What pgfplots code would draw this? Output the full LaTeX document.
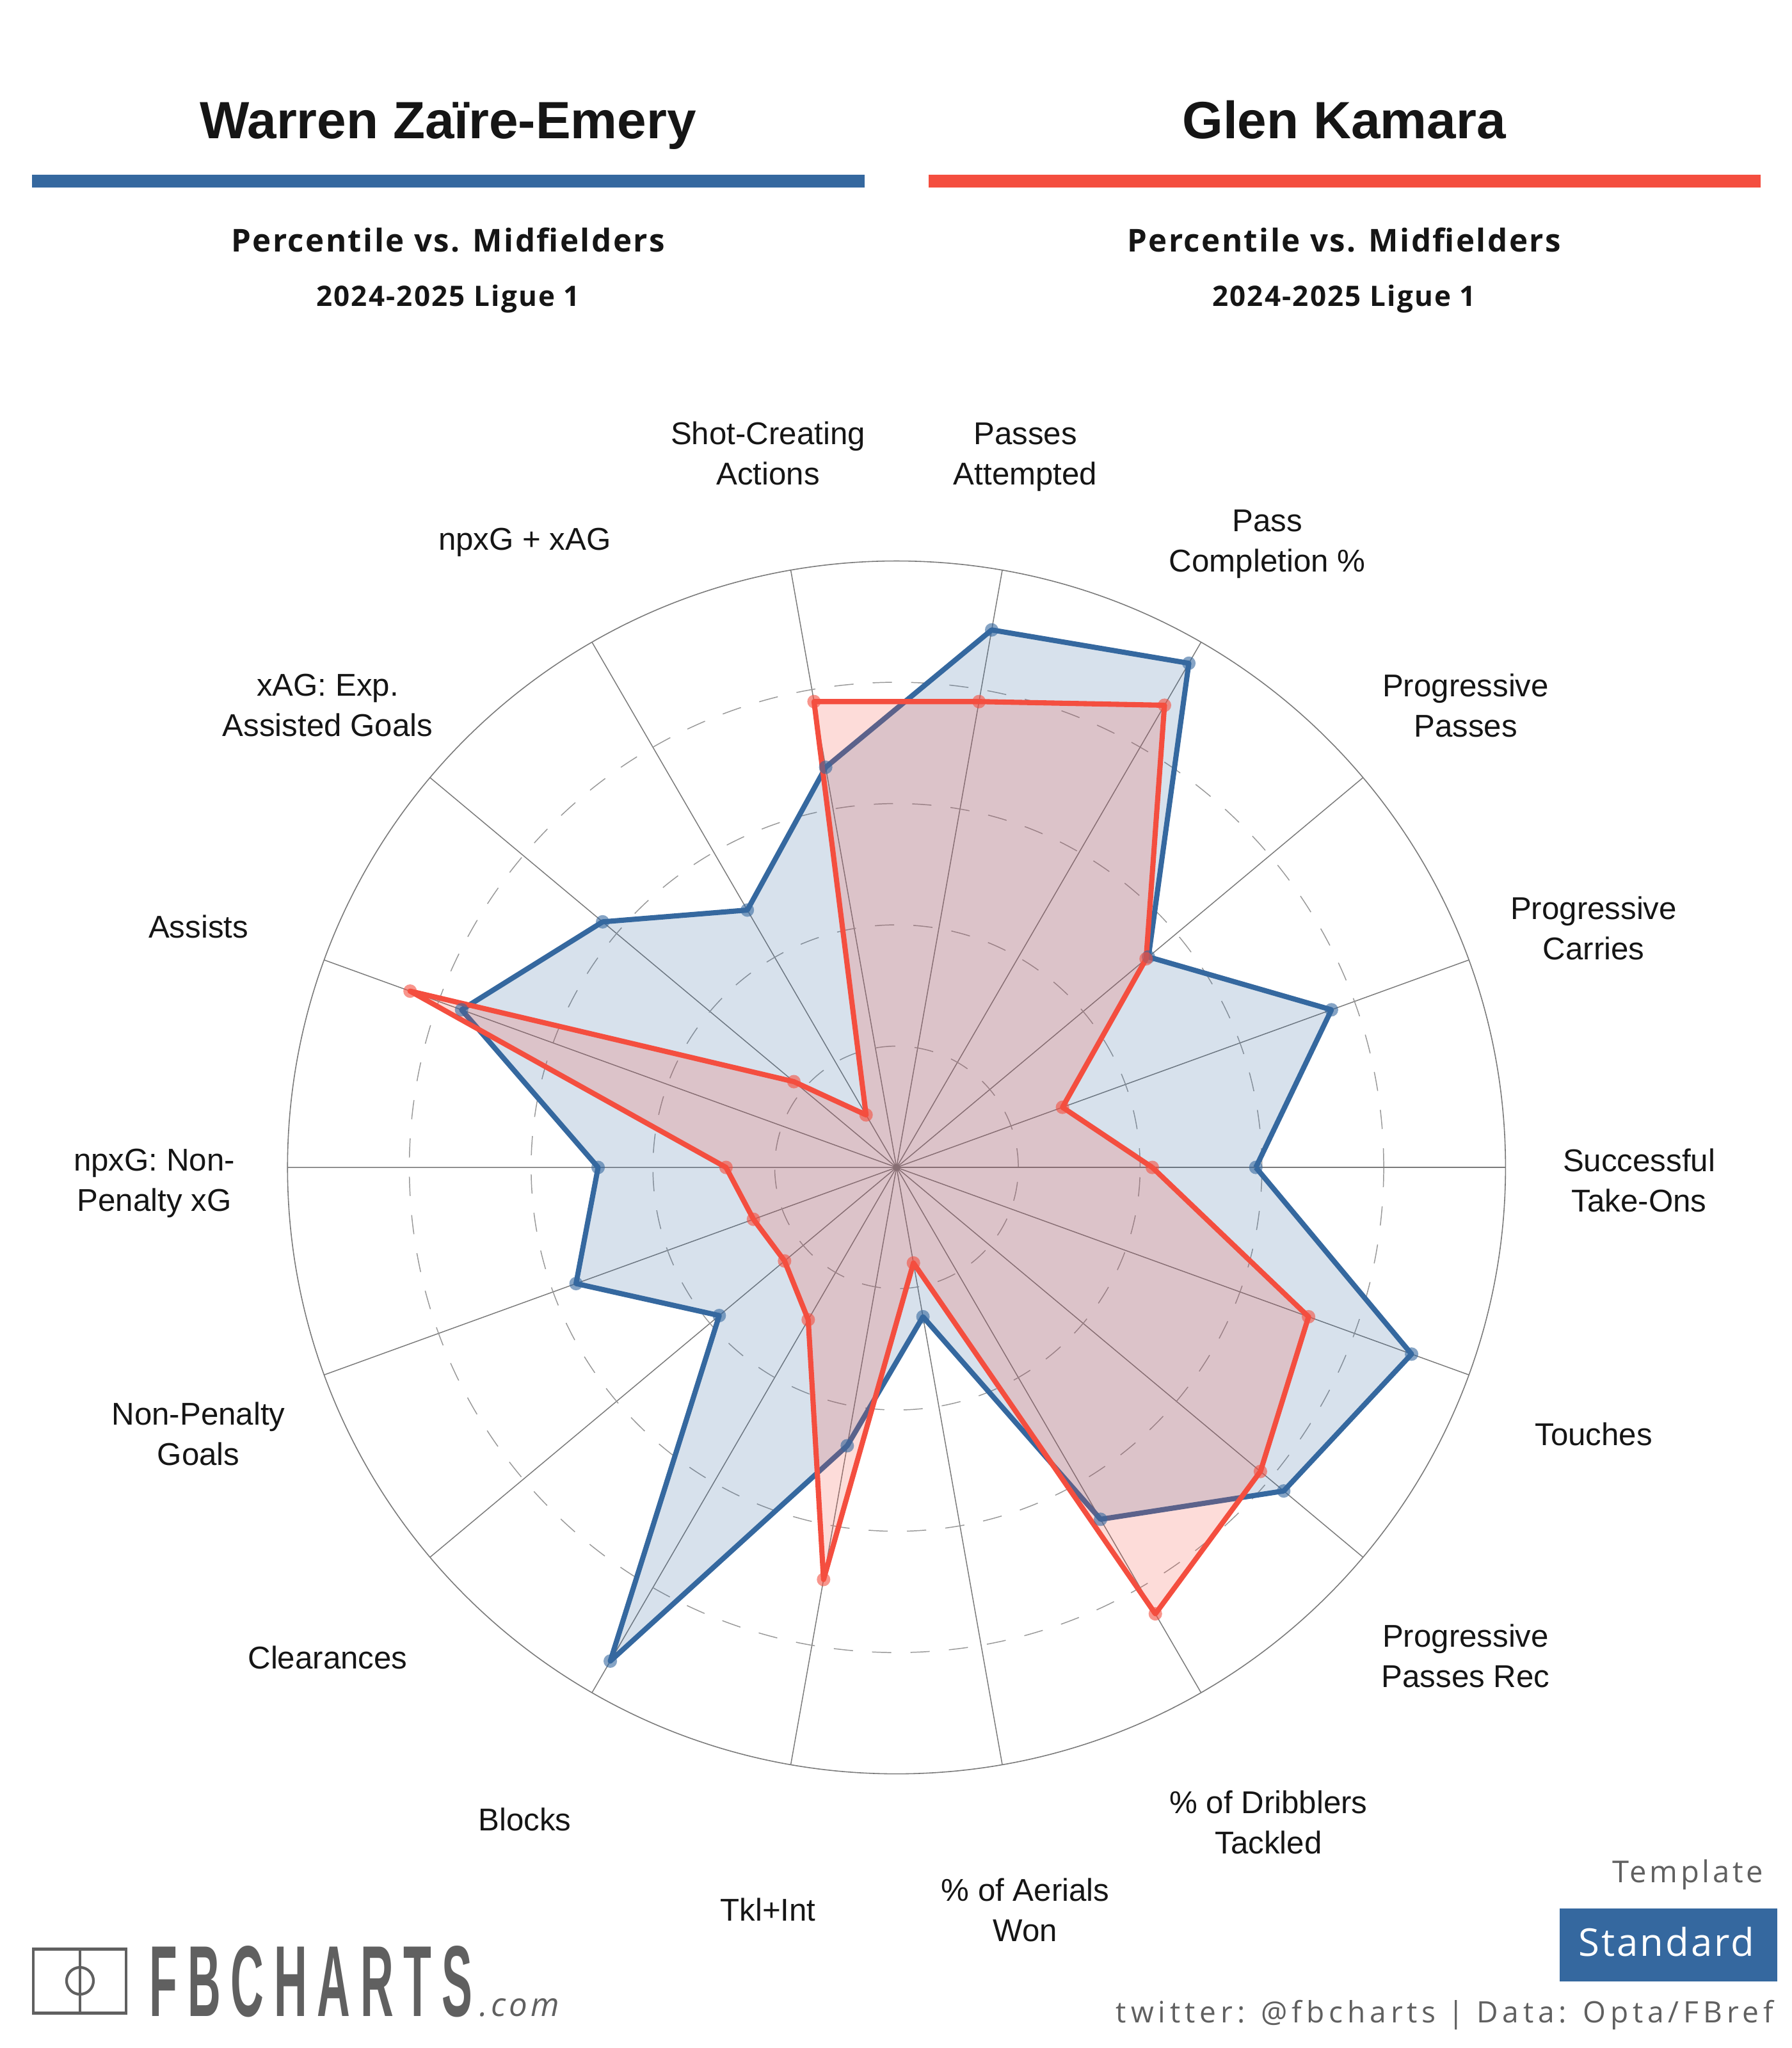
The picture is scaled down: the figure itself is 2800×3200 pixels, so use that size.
\documentclass[border=0pt]{standalone}
\usepackage{fontspec}
\usepackage{graphicx}
\usepackage{pgfplots}
\usepackage{pgfplotstable}
\pgfplotsset{compat=1.18}
\usepgfplotslibrary{polar}
\setmainfont{Liberation Sans}
\newfontfamily\osp[LetterSpace=10]{Open Sans}
\newfontfamily\ospw[LetterSpace=15]{Open Sans}
\newfontfamily\ospn[LetterSpace=5]{Open Sans}
\newfontfamily\ospb[LetterSpace=5]{Open Sans}
\newfontfamily\logof[LetterSpace=22]{Liberation Sans}
\definecolor{pblue}{HTML}{35689F}
\definecolor{pred}{HTML}{F44E3F}
\definecolor{lgray}{HTML}{606060}
\definecolor{ink}{HTML}{151515}

\pgfplotstableread{
ang zaire kamara
0   59   42
20  76   29
40  54   53.5
60  96   88
80  90   78
100 67   78
120 49   10
140 63   22
160 76   85
180 49   28
200 56   25
220 38   24
240 94   29
260 46.6 69
280 25   16
300 67   85
320 83   78
340 90   72
}\radar
\pgfplotstableread{
ang zaire kamara
0   59   42
20  76   29
40  54   53.5
60  96   88
80  90   78
100 67   78
120 49   10
140 63   22
160 76   85
180 49   28
200 56   25
220 38   24
240 94   29
260 46.6 69
280 25   16
300 67   85
320 83   78
340 90   72
360 59   42
}\radarclosed

\newcommand{\lab}[3]{\node[align=center,inner sep=0pt,text=ink,font=\fontsize{14}{17.9}\selectfont] at (#1,#2) {#3};}
\begin{document}
\begin{tikzpicture}[x=0.01cm,y=-0.01cm]
\path[use as bounding box] (0,0) rectangle (2800,3200);
\begin{polaraxis}[
  at={(14cm,-18.23cm)}, anchor=origin,
  scale only axis, width=19.02cm, height=18.94cm,
  xmin=0, xmax=360, ymin=0, ymax=100,
  xtick={0,20,...,340}, ytick={20,40,60,80},
  xticklabels={}, yticklabels={},
  major tick length=0pt,
  grid=both,
  x grid style={draw=black!52,line width=0.42pt,solid},
  y grid style={draw=black!40,line width=0.42pt,dash pattern=on 0.3cm off 0.3cm},
  axis line style={draw=black!52,line width=0.45pt},
  axis on top=false,
]
\addplot[draw=pblue,line width=2.3pt,fill=pblue,fill opacity=0.2,draw opacity=1,line join=round,no markers] table[x=ang,y=zaire]{\radarclosed};
\addplot[only marks,color=pblue,mark=*,mark size=3pt,mark options={solid,draw opacity=0,fill=pblue,fill opacity=0.6}] table[x=ang,y=zaire]{\radar};
\addplot[draw=pred,line width=2.3pt,fill=pred,fill opacity=0.2,draw opacity=1,line join=round,no markers] table[x=ang,y=kamara]{\radarclosed};
\addplot[only marks,color=pred,mark=*,mark size=3pt,mark options={solid,draw opacity=0,fill=pred,fill opacity=0.6}] table[x=ang,y=kamara]{\radar};
\end{polaraxis}

% headers
\node[inner sep=0pt,anchor=base,text=ink,font=\fontsize{23.3}{27}\selectfont\bfseries] at (700,216) {Warren Zaïre-Emery};
\node[inner sep=0pt,anchor=base,text=ink,font=\fontsize{23.3}{27}\selectfont\bfseries] at (2100,216) {Glen Kamara};
\fill[pblue] (50,273) rectangle (1351,293);
\fill[pred] (1451,273) rectangle (2751,293);
\node[inner sep=0pt,anchor=base,text=ink,font=\fontsize{14}{17}\ospb\bfseries] at (700,393) {Percentile vs. Midfielders};
\node[inner sep=0pt,anchor=base,text=ink,font=\fontsize{14}{17}\ospb\bfseries] at (2100,393) {Percentile vs. Midfielders};
\node[inner sep=0pt,anchor=base,text=ink,font=\fontsize{12.5}{15}\ospb\bfseries] at (700,478) {2024-2025 Ligue 1};
\node[inner sep=0pt,anchor=base,text=ink,font=\fontsize{12.5}{15}\ospb\bfseries] at (2100,478) {2024-2025 Ligue 1};

% category labels
\lab{1200}{708}{Shot-Creating\\Actions}
\lab{1602}{714}{Passes\\Attempted}
\lab{1980}{850}{Pass\\Completion \%}
\lab{2290}{1102}{Progressive\\Passes}
\lab{2490}{1450}{Progressive\\Carries}
\lab{2561}{1844}{Successful\\Take-Ons}
\lab{2490}{2241}{Touches}
\lab{2290}{2587}{Progressive\\Passes Rec}
\lab{1982}{2847}{\% of Dribblers\\Tackled}
\lab{1602}{2984}{\% of Aerials\\Won}
\lab{1200}{2984}{Tkl+Int}
\lab{820}{2843}{Blocks}
\lab{512}{2590}{Clearances}
\lab{310}{2240}{Non-Penalty\\Goals}
\lab{241}{1849}{npxG: Non-\\Penalty xG}
\lab{310}{1448}{Assists}
\lab{512}{1102}{xAG: Exp.\\Assisted Goals}
\lab{820}{847}{npxG + xAG}

% logo
\draw[lgray,line width=1.4pt] (52,3045) rectangle (197,3145);
\draw[lgray,line width=1.2pt] (125,3045) -- (125,3145);
\draw[lgray,line width=1.2pt] (125,3095) circle (21);
\node[inner sep=0pt,anchor=north west,text=lgray] at (233,3040) {\resizebox{5.04cm}{1.10cm}{\logof\bfseries FBCHARTS}};
\node[inner sep=0pt,anchor=base west,text=lgray,font=\fontsize{14.5}{17}\osp\itshape] at (749,3150) {.com};

% footer right
\node[inner sep=0pt,anchor=base east,text=lgray,font=\fontsize{13.4}{16}\osp] at (2756,2941) {Template};
\fill[pblue] (2437,2982) rectangle (2777,3096);
\node[inner sep=0pt,anchor=base,text=white,font=\fontsize{17}{20}\ospn] at (2604,3056) {Standard};
\node[inner sep=0pt,anchor=base east,text=lgray,font=\fontsize{13.1}{16}\ospw] at (2772,3160) {twitter: @fbcharts | Data: Opta/FBref};
\end{tikzpicture}
\end{document}
